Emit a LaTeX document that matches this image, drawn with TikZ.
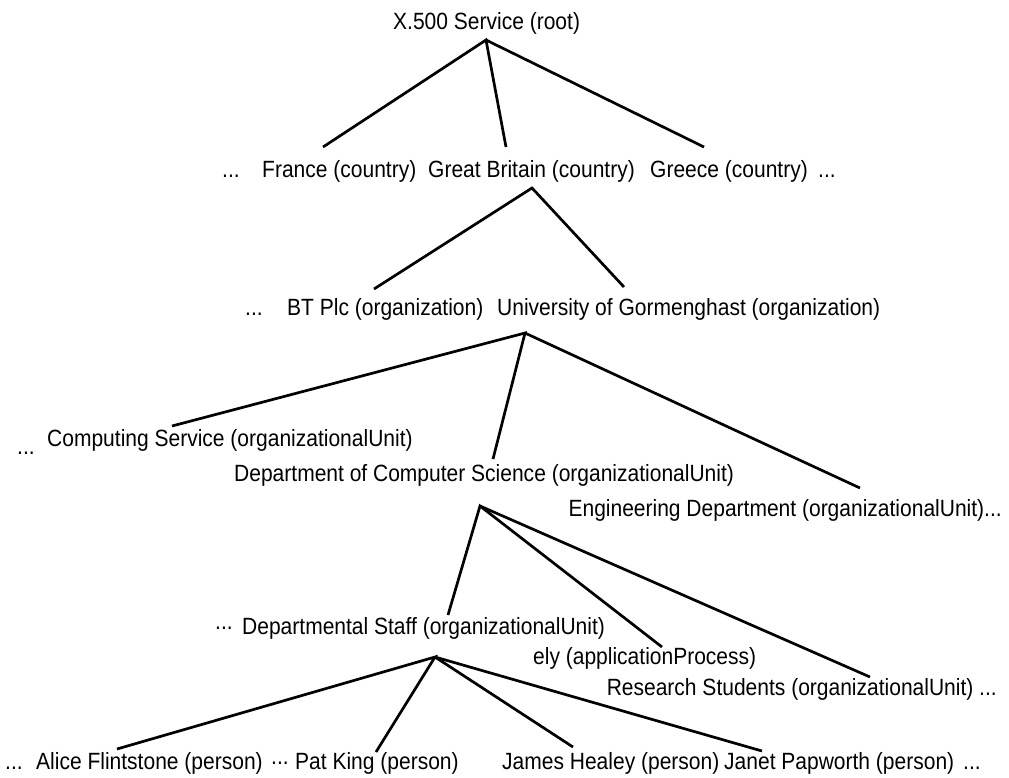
\documentclass[tikz,border=0pt]{standalone}
\usepackage{fontspec}
\newfontfamily\lbfont[FakeStretch=0.894]{Liberation Sans}
\begin{document}
\begin{tikzpicture}[x=1pt,y=-1pt,
  lbl/.style={anchor=base west,inner sep=0pt,font=\lbfont\fontsize{23.5}{27}\selectfont},
  lble/.style={anchor=base east,inner sep=0pt,font=\lbfont\fontsize{23.5}{27}\selectfont},
  edge/.style={line width=2.7pt,line cap=butt}]
\useasboundingbox (0,0) rectangle (1009,777);
% labels
\node[lbl] (root) at (393,29) {X.500 Service (root)};
\node[lbl] (d1) at (222,177) {...};
\node[lbl] (fr) at (262,177) {France (country)};
\node[lbl] (gb) at (428,177) {Great Britain (country)};
\node[lbl] (gr) at (650,177) {Greece (country)};
\node[lbl] (d2) at (818,177) {...};
\node[lbl] (d3) at (245,315) {...};
\node[lbl] (bt) at (287,315) {BT Plc (organization)};
\node[lbl] (uni) at (497,315) {University of Gormenghast (organization)};
\node[lbl] (d4) at (17,454) {...};
\node[lbl] (cs) at (47,446) {Computing Service (organizationalUnit)};
\node[lbl] (dcs) at (234,481) {Department of Computer Science (organizationalUnit)};
\node[lble] (eng) at (1002,516) {Engineering Department (organizationalUnit)...};
\node[lbl] (d5) at (215,634) {\raisebox{5pt}{...}};
\node[lbl] (staff) at (242,634) {Departmental Staff (organizationalUnit)};
\node[lbl] (ely) at (533,664) {ely (applicationProcess)};
\node[lble] (rs) at (997,695) {Research Students (organizationalUnit) ...};
\node[lbl] (d6) at (5,769) {...};
\node[lbl] (alice) at (36,769) {Alice Flintstone (person)};
\node[lbl] (d7) at (271,769) {\raisebox{5pt}{...}};
\node[lbl] (pat) at (295,769) {Pat King (person)};
\node[lbl] (james) at (502,769) {James Healey (person)};
\node[lbl] (janet) at (724,769) {Janet Papworth (person)};
\node[lbl] (d8) at (963,769) {...};
% apexes and ends
\coordinate (rootA) at (486,40);
\coordinate (gbA) at (532,188);
\coordinate (uniA) at (525,333);
\coordinate (dcsA) at (480,506);
\coordinate (staffA) at (435,657);
\coordinate (frT) at (323,147);
\coordinate (gbT) at (506,147);
\coordinate (grT) at (704,147);
\coordinate (btT) at (374,289);
\coordinate (uniT) at (624,287);
\coordinate (csT) at (172,426);
\coordinate (dcsT) at (493,459);
\coordinate (engT) at (860,488);
\coordinate (staffT) at (448,615);
\coordinate (elyT) at (662,647);
\coordinate (rsT) at (870,677);
\coordinate (aliceT) at (117,749);
\coordinate (patT) at (376,752);
\coordinate (jamesT) at (573,747);
\coordinate (janetT) at (762,751);
% connectors
\draw[edge] (frT) -- (rootA) -- (gbT);
\draw[edge] (rootA) -- (grT);
\draw[edge] (btT) -- (gbA) -- (uniT);
\draw[edge] (csT) -- (uniA) -- (dcsT);
\draw[edge] (uniA) -- (engT);
\draw[edge] (staffT) -- (dcsA) -- (elyT);
\draw[edge] (dcsA) -- (rsT);
\draw[edge] (aliceT) -- (staffA) -- (patT);
\draw[edge] (staffA) -- (jamesT);
\draw[edge] (staffA) -- (janetT);
\end{tikzpicture}
\end{document}
